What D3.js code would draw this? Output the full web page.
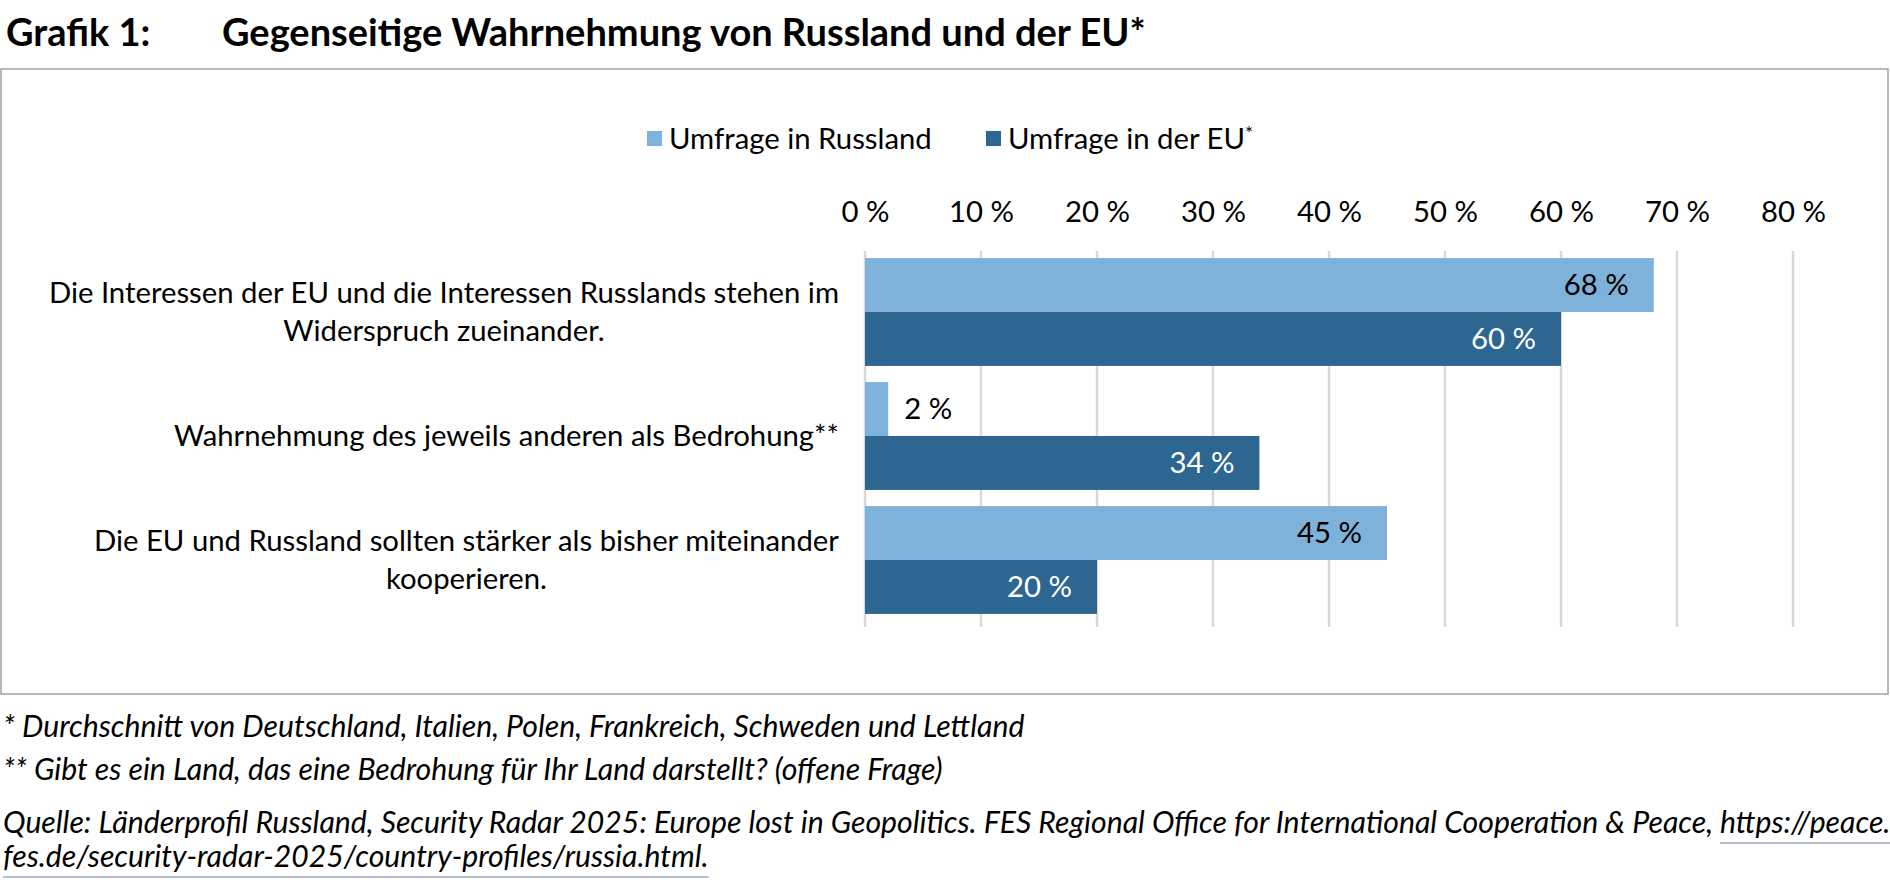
<!DOCTYPE html>
<html><head><meta charset="utf-8">
<script src="https://cdn.jsdelivr.net/npm/d3@7/dist/d3.min.js"></script>
<style>
body{margin:0;background:#fff;}
svg{display:block;font-family:Lato, "Open Sans", sans-serif;}
</style></head><body>
<svg id="chart" width="1890" height="887"></svg>
<script>
const categories = [
  ["Die Interessen der EU und die Interessen Russlands stehen im", "Widerspruch zueinander."],
  ["Wahrnehmung des jeweils anderen als Bedrohung**"],
  ["Die EU und Russland sollten stärker als bisher miteinander", "kooperieren."]
];
const seriesNames = ["Umfrage in Russland", "Umfrage in der EU*"];
const russiaValues = [68, 2, 45];
const euValues = [60, 34, 20];
const tickValues = [0, 10, 20, 30, 40, 50, 60, 70, 80];
const colors = ["#7fb2da", "#2d6791"];
const labelColors = ["#000", "#fff"];

const svg = d3.select("#chart");
const FS = 29.3;

// title
svg.append("text").attr("x", 6).attr("y", 46).attr("font-size", 38).attr("font-weight", 700).attr("fill", "#000").text("Grafik 1:");
svg.append("text").attr("x", 222).attr("y", 46).attr("font-size", 38).attr("font-weight", 700).attr("fill", "#000").text("Gegenseitige Wahrnehmung von Russland und der EU*");

// frame
svg.append("rect").attr("x", 1).attr("y", 69).attr("width", 1887).attr("height", 625)
  .attr("fill", "none").attr("stroke", "#a0a0a0").attr("stroke-width", 1.5);

const x = d3.scaleLinear().domain([0, 80]).range([865, 1793]);
const y = d3.scaleBand().domain(d3.range(categories.length)).range([250, 622]).paddingInner(0.13).paddingOuter(0.065);
const ySub = d3.scaleBand().domain([0, 1]).range([0, y.bandwidth()]);

// gridlines
svg.append("g").selectAll("line").data(tickValues).join("line")
  .attr("x1", d => x(d)).attr("x2", d => x(d)).attr("y1", 251).attr("y2", 627)
  .attr("stroke", "#d9d9d9").attr("stroke-width", 2.5);

// axis labels (top)
const axis = d3.axisTop(x).tickValues(tickValues).tickFormat(d => d + " %").tickSize(0).tickPadding(0);
const ag = svg.append("g").attr("transform", "translate(0,222)").call(axis);
ag.select(".domain").remove();
ag.selectAll("text").attr("font-size", FS).attr("fill", "#000").attr("font-family", "Lato");

// bars
const data = [russiaValues, euValues];
data.forEach((vals, s) => {
  const g = svg.append("g");
  g.selectAll("rect").data(vals).join("rect")
    .attr("x", x(0)).attr("y", (d, i) => y(i) + ySub(s))
    .attr("width", d => x(d) - x(0)).attr("height", ySub.bandwidth())
    .attr("fill", colors[s]);
  g.selectAll("text").data(vals).join("text")
    .attr("x", d => d < 10 ? x(d) + 16 : x(d) - 25)
    .attr("y", (d, i) => y(i) + ySub(s) + ySub.bandwidth() / 2)
    .attr("dy", "0.35em")
    .attr("text-anchor", d => d < 10 ? "start" : "end")
    .attr("font-size", FS)
    .attr("fill", d => d < 10 ? "#000" : labelColors[s])
    .text(d => d + " %");
});

// category labels
const right = 839, lh = 38;
categories.forEach((lines, i) => {
  const g = svg.append("g");
  const cy = y(i) + y.bandwidth() / 2;
  const texts = lines.map((l, j) => g.append("text")
    .attr("y", cy + (j - (lines.length - 1) / 2) * lh)
    .attr("dy", "0.35em").attr("font-size", FS).attr("fill", "#000")
    .attr("text-anchor", "middle").text(l));
  const maxW = d3.max(texts, t => t.node().getComputedTextLength());
  texts.forEach(t => t.attr("x", right - maxW / 2));
});

// legend
const lg = svg.append("g");
const legX = [647, 986];
seriesNames.forEach((n, s) => {
  lg.append("rect").attr("x", legX[s]).attr("y", 131).attr("width", 15).attr("height", 15).attr("fill", colors[s]);
  const t = lg.append("text").attr("x", legX[s] + 22).attr("y", 139).attr("dy", "0.35em").attr("font-size", FS).attr("fill", "#000");
  if (n.endsWith("*")) {
    t.text(n.slice(0, -1));
    t.append("tspan").attr("font-size", 19).attr("dy", "-0.5em").text("*");
  } else t.text(n);
});

// footnotes
const NF = 30.2;
const notes = [
  {y: 737, text: "* Durchschnitt von Deutschland, Italien, Polen, Frankreich, Schweden und Lettland"},
  {y: 780, text: "** Gibt es ein Land, das eine Bedrohung für Ihr Land darstellt? (offene Frage)"}
];
notes.forEach(n => svg.append("text").attr("x", 3).attr("y", n.y).attr("font-size", NF).attr("font-style", "italic").attr("fill", "#000").text(n.text));
const q = svg.append("text").attr("x", 3).attr("y", 833).attr("font-size", NF).attr("font-style", "italic").attr("fill", "#000");
q.append("tspan").text("Quelle: Länderprofil Russland, Security Radar 2025: Europe lost in Geopolitics. FES Regional Office for International Cooperation & Peace, ");
const link1 = q.append("tspan").text("https://peace.");
const q2 = svg.append("text").attr("x", 3).attr("y", 867).attr("font-size", NF).attr("font-style", "italic").attr("fill", "#000").text("fes.de/security-radar-2025/country-profiles/russia.html.");
// underlines
const qw = q.node().getComputedTextLength();
const lw = link1.node().getComputedTextLength();
svg.append("line").attr("x1", 3 + qw - lw).attr("x2", 3 + qw).attr("y1", 843).attr("y2", 843).attr("stroke", "#b4c0d0").attr("stroke-width", 2);
const q2w = q2.node().getComputedTextLength();
svg.append("line").attr("x1", 3).attr("x2", 3 + q2w).attr("y1", 877).attr("y2", 877).attr("stroke", "#b4c0d0").attr("stroke-width", 2);
</script>
</body></html>
